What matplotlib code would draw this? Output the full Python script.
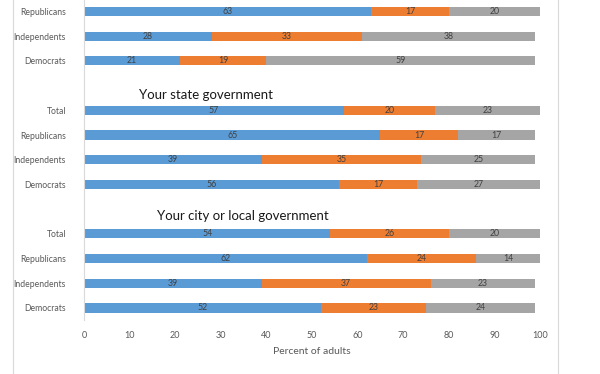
import numpy as np
import matplotlib.pyplot as plt
from matplotlib.lines import Line2D

# filas de arriba hacia abajo ("" = fila vacia entre grupos)
rows = ["Republicans", "Independents", "Democrats", "",
        "Total", "Republicans", "Independents", "Democrats", "",
        "Total", "Republicans", "Independents", "Democrats"]
serie1 = [63, 28, 21, 0, 57, 65, 39, 56, 0, 54, 62, 39, 52]
serie2 = [17, 33, 19, 0, 20, 17, 35, 17, 0, 26, 24, 37, 23]
serie3 = [20, 38, 59, 0, 23, 17, 25, 27, 0, 20, 14, 23, 24]
titulos = ["Your state government", "Your city or local government"]

colores = ["#5B9BD5", "#ED7D31", "#A5A5A5"]
plt.rcParams['font.family'] = ['Lato', 'DejaVu Sans']

fig = plt.figure(figsize=(6, 3.74), dpi=100)
ax = fig.add_axes([0.14, 0.1436, 0.76, 0.858])

y = np.arange(len(rows))
izq = np.zeros(len(rows))
for vals, c in zip([serie1, serie2, serie3], colores):
    vals = np.array(vals)
    bars = ax.barh(y, vals, left=izq, height=0.37, color=c)
    for b, v in zip(bars, vals):
        if v > 0:
            ax.text(b.get_x() + b.get_width() / 2, b.get_y() + b.get_height() / 2,
                    str(v), ha='center', va='center', fontsize=6.3, color='#404040')
    izq = izq + vals

# titulos de cada grupo
ax.text(12.0, 3.36, titulos[0], fontsize=9.5, color='#1a1a1a', va='center')
ax.text(16.0, 8.27, titulos[1], fontsize=9.5, color='#1a1a1a', va='center')

ax.set_xlim(0, 100)
ax.set_ylim(12.5, -0.49)
ax.set_yticks(y)
ax.set_yticklabels(rows, fontsize=6.2, color='#595959')
ax.set_xticks(np.arange(0, 101, 10))
ax.tick_params(axis='x', labelsize=6.5, labelcolor='#595959', length=0, pad=8)
ax.tick_params(axis='y', length=0, pad=13)
ax.set_xlabel("Percent of adults", fontsize=7.5, color='#595959', labelpad=5)
for s in ['top', 'right', 'bottom']:
    ax.spines[s].set_visible(False)
ax.spines['left'].set_color('#D9D9D9')
ax.spines['left'].set_linewidth(0.8)

# marco del grafico
fig.add_artist(Line2D([12.5 / 600, 12.5 / 600], [0, 1], color='#D9D9D9', lw=0.8))
fig.add_artist(Line2D([558 / 600, 558 / 600], [0, 1], color='#D9D9D9', lw=0.8))

fig.savefig("out.png", dpi=100)
